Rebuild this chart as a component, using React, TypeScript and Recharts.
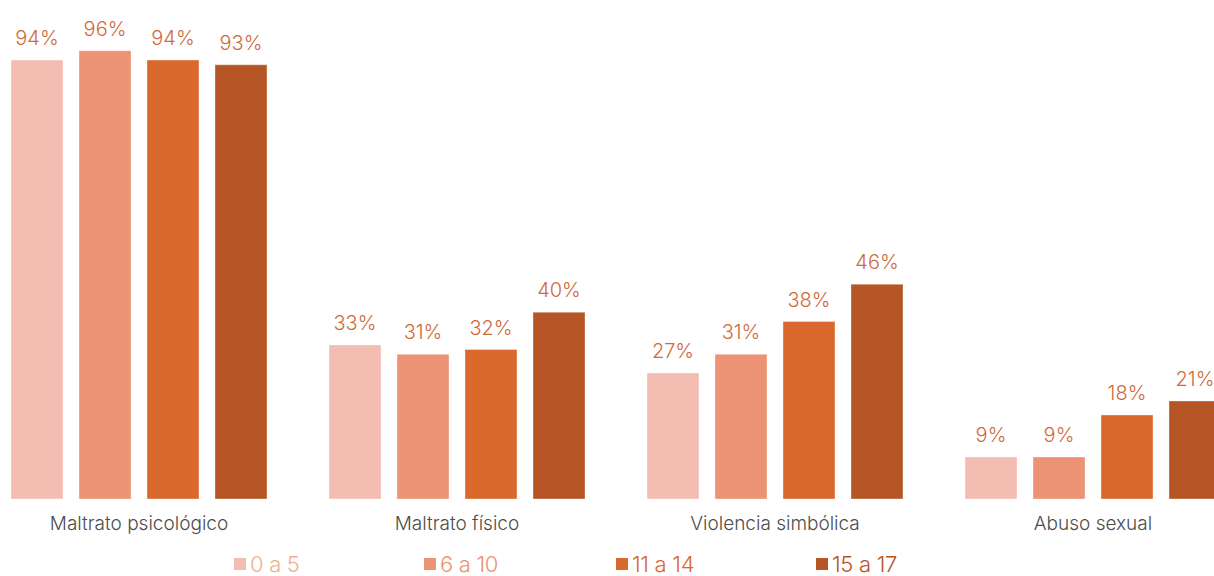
import React from "react";
import { BarChart, Bar, XAxis, YAxis, LabelList, Legend } from "recharts";

const categories = ["Maltrato psicológico", "Maltrato físico", "Violencia simbólica", "Abuso sexual"];
const age0to5 = [94, 33, 27, 9];
const age6to10 = [96, 31, 31, 9];
const age11to14 = [94, 32, 38, 18];
const age15to17 = [93, 40, 46, 21];
const seriesNames = ["0 a 5", "6 a 10", "11 a 14", "15 a 17"];
const seriesColors = ["#f3bdb2", "#ec9275", "#da692e", "#b65627"];
const legendTextColors = ["#f0b08f", "#eb9270", "#da692e", "#b65627"];

const data = categories.map((c, i) => ({
  name: c,
  s0: age0to5[i],
  s1: age6to10[i],
  s2: age11to14[i],
  s3: age15to17[i],
}));

const fmt = (v: any) => `${v}%`;

const LegendContent = () => (
  <div style={{ display: "flex", height: 37, alignItems: "center", paddingLeft: 254, fontFamily: "Inter, sans-serif", position: "relative", top: 6 }}>
    {seriesNames.map((n, i) => (
      <div key={n} style={{ display: "flex", alignItems: "center", width: [190, 192, 200, 120][i], lineHeight: "24px" }}>
        <span style={{ display: "inline-block", width: 12, height: 12, background: seriesColors[i], marginRight: 4 }} />
        <span style={{ color: legendTextColors[i], fontSize: 22, fontWeight: 300, letterSpacing: -0.3 }}>{n}</span>
      </div>
    ))}
  </div>
);

export default function App() {
  return (
    <div style={{ position: "absolute", left: 0, top: 0, width: 1214, height: 576, overflow: "hidden", background: "#fff" }}>
      <div style={{ marginLeft: -20 }}>
        <BarChart
          width={1272}
          height={576}
          data={data}
          margin={{ top: 32, right: 0, bottom: 0, left: 0 }}
          barCategoryGap={31}
          barGap={16}
        >
          <XAxis
            dataKey="name"
            axisLine={false}
            tickLine={false}
            height={40}
            tick={{ fill: "#4d4d4d", fontSize: 19, fontFamily: "Inter, sans-serif", fontWeight: 300 }}
            dy={10}
            interval={0}
          />
          <YAxis hide domain={[0, 100]} />
          <Legend verticalAlign="bottom" content={<LegendContent />} />
          {["s0", "s1", "s2", "s3"].map((k, i) => (
            <Bar key={k} dataKey={k} name={seriesNames[i]} fill={seriesColors[i]} barSize={52} isAnimationActive={false} stroke="rgba(255,255,255,0.35)" strokeWidth={1}>
              <LabelList dataKey={k} position="top" offset={15} formatter={fmt} fill="#cf6a3c" fontSize={20} fontWeight={300} fontFamily="Inter, sans-serif" />
            </Bar>
          ))}
        </BarChart>
      </div>
    </div>
  );
}
